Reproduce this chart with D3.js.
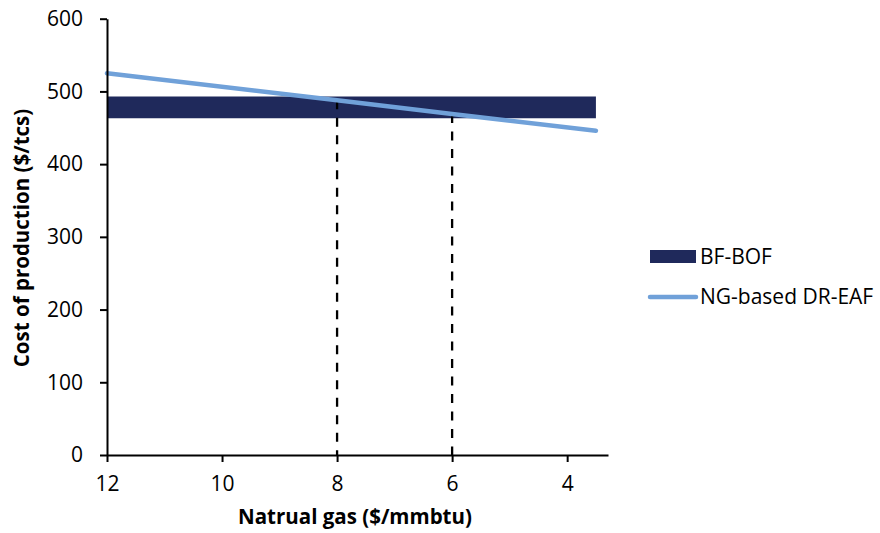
<!DOCTYPE html>
<html>
<head>
<meta charset="utf-8">
<script src="https://cdn.jsdelivr.net/npm/d3@7"></script>
<style>
  html, body { margin: 0; padding: 0; background: #fff; }
  svg { display: block; font-family: "Open Sans", "Noto Sans", sans-serif; }
</style>
</head>
<body>
<svg id="chart" width="880" height="533"></svg>
<script>
// ---- data ----
const xTicks = [12, 10, 8, 6, 4];
const yTicks = [0, 100, 200, 300, 400, 500, 600];
const bfBofPrice = [12, 3.5];
const bfBofLow = [463, 463];
const bfBofHigh = [493, 493];
const drEafPrice = [12, 8, 6, 3.5];
const drEafCost = [525, 488, 469, 446];
const breakEvenPrice = [8, 6];
const breakEvenCost = [488, 469];
const seriesNames = ["BF-BOF", "NG-based DR-EAF"];
const xTitle = "Natrual gas ($/mmbtu)";
const yTitle = "Cost of production ($/tcs)";

// ---- layout ----
const svg = d3.select("#chart");
const pLeft = 107, pRight = 608, pTop = 18.7, pBottom = 455;
const x = d3.scaleLinear().domain([12, 3.29]).range([pLeft, pRight]);
const y = d3.scaleLinear().domain([0, 600]).range([pBottom, pTop]);
const bandColor = "#1F295B";
const lineColor = "#70A1D9";

// band
const bandData = bfBofPrice.map((p, i) => ({p, lo: bfBofLow[i], hi: bfBofHigh[i]}));
svg.append("path")
  .datum(bandData)
  .attr("fill", bandColor)
  .attr("d", d3.area().x(d => x(d.p)).y0(d => y(d.lo)).y1(d => y(d.hi)));

// dashed break-even lines
svg.selectAll(".be").data(breakEvenPrice).enter().append("line")
  .attr("x1", d => x(d)).attr("x2", d => x(d))
  .attr("y1", (d, i) => y(breakEvenCost[i])).attr("y2", y(0))
  .attr("stroke", "#000").attr("stroke-width", 2.3)
  .attr("stroke-dasharray", "9,8.5");

// line
const lineData = drEafPrice.map((p, i) => ({p, c: drEafCost[i]}));
svg.append("path")
  .datum(lineData)
  .attr("fill", "none")
  .attr("stroke", lineColor)
  .attr("stroke-width", 4.5)
  .attr("stroke-linecap", "round")
  .attr("d", d3.line().x(d => x(d.p)).y(d => y(d.c)));

// axes
const fontSize = 21;
const yAxis = svg.append("g").attr("transform", `translate(${pLeft},0)`)
  .call(d3.axisLeft(y).tickValues(yTicks).tickSize(7).tickSizeOuter(0).tickPadding(17));
const xAxis = svg.append("g").attr("transform", `translate(0,${pBottom})`)
  .call(d3.axisBottom(x).tickValues(xTicks).tickSize(7).tickSizeOuter(0).tickPadding(14.5));
[yAxis, xAxis].forEach(g => {
  g.select(".domain").attr("stroke", "#000").attr("stroke-width", 2);
  g.selectAll(".tick line").attr("stroke", "#000").attr("stroke-width", 2);
  g.selectAll(".tick text").attr("fill", "#000").style("font-size", fontSize + "px")
    .style("font-family", '"Open Sans", sans-serif');
});

// axis titles
svg.append("text")
  .attr("x", 355).attr("y", 524)
  .attr("text-anchor", "middle")
  .style("font-size", "20.5px").style("font-weight", "bold")
  .text(xTitle);
svg.append("text")
  .attr("transform", "translate(28.5,238) rotate(-90)")
  .attr("text-anchor", "middle")
  .style("font-size", "20.5px").style("font-weight", "bold")
  .text(yTitle);

// legend
const lg = svg.append("g");
lg.append("rect").attr("x", 650).attr("y", 250).attr("width", 46).attr("height", 13).attr("fill", bandColor);
lg.append("text").attr("x", 700).attr("y", 256.5).attr("dy", "0.35em")
  .style("font-size", "21px").text(seriesNames[0]);
lg.append("line").attr("x1", 650).attr("x2", 696).attr("y1", 297).attr("y2", 297)
  .attr("stroke", lineColor).attr("stroke-width", 4.5).attr("stroke-linecap", "round");
lg.append("text").attr("x", 700).attr("y", 297).attr("dy", "0.35em")
  .style("font-size", "21px").text(seriesNames[1]);
</script>
</body>
</html>
